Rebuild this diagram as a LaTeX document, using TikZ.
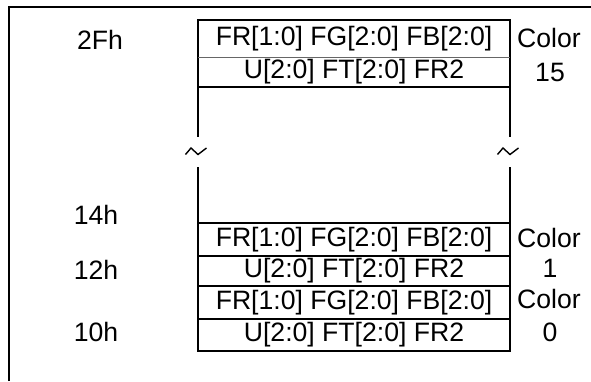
\documentclass[tikz,border=0pt]{standalone}
\usepackage{fontspec}
\setmainfont{Liberation Sans}
\begin{document}
\begin{tikzpicture}[x=1pt,y=-1pt,
  txt/.style={font=\fontsize{26.6}{30}\selectfont, inner sep=0pt, outer sep=0pt},
  cell/.style={txt, draw, line width=2pt, minimum width=312pt, anchor=north west},
  blank/.style={txt, minimum width=312pt, anchor=north west},
  edge/.style={line width=2pt},
  frame/.style={line width=2.5pt},
  brk/.style={line width=1.4pt, line join=miter}
]
\useasboundingbox (0,0) rectangle (591,381);
% outer frame
\coordinate (fbl) at (9,381);
\coordinate (ftl) at (9,7);
\coordinate (ftr) at (591,7);
\draw[frame] (fbl) -- (ftl) -- (ftr);

% upper block
\node[blank, minimum height=37pt] (u1) at (198,20) {FR[1:0] FG[2:0] FB[2:0]};
\node[blank, minimum height=30pt] (u2) at (198,57) {U[2:0] FT[2:0] FR2};
\draw[edge] (u2.south west) -- (u1.north west) -- (u1.north east) -- (u2.south east);
\draw[edge] (u2.south west) -- (u2.south east);
\draw[line width=1pt, black!60] (u1.south west) -- (u1.south east);

% vertical lines with break
\coordinate (la) at (198,137);
\coordinate (ra) at (510,137);
\coordinate (lb) at (198,167);
\coordinate (rb) at (510,167);
\coordinate (zl) at (198,151.5);
\coordinate (zr) at (510,151.5);
\draw[edge] (u2.south west) -- (la);
\draw[edge] (u2.south east) -- (ra);
\draw[brk] (zl) ++(-12.5,3) -- ++(5.5,-6.5) -- ++(7,6.5) -- ++(8.5,-6.5);
\draw[brk] (zr) ++(-12.5,3) -- ++(5.5,-6.5) -- ++(7,6.5) -- ++(8.5,-6.5);

% lower rows
\node[cell, minimum height=33pt] (l1) at (198,223) {FR[1:0] FG[2:0] FB[2:0]};
\node[cell, minimum height=30pt] (l2) at (198,256) {U[2:0] FT[2:0] FR2};
\node[cell, minimum height=33pt] (l3) at (198,286) {FR[1:0] FG[2:0] FB[2:0]};
\node[cell, minimum height=32pt] (l4) at (198,319) {U[2:0] FT[2:0] FR2};
\draw[edge] (lb) -- (l1.north west);
\draw[edge] (rb) -- (l1.north east);

% address labels
\node[txt] (a2f) at (100,40) {2Fh};
\node[txt] (a14) at (96,215) {14h};
\node[txt] (a12) at (96,270) {12h};
\node[txt] (a10) at (96,332) {10h};

% color labels
\node[txt] (c15a) at (549,38) {Color};
\node[txt] (c15b) at (550,72) {15};
\node[txt] (c1a) at (549,238) {Color};
\node[txt] (c1b) at (550,268) {1};
\node[txt] (c0a) at (549,299) {Color};
\node[txt] (c0b) at (550,332) {0};
\end{tikzpicture}
\end{document}
